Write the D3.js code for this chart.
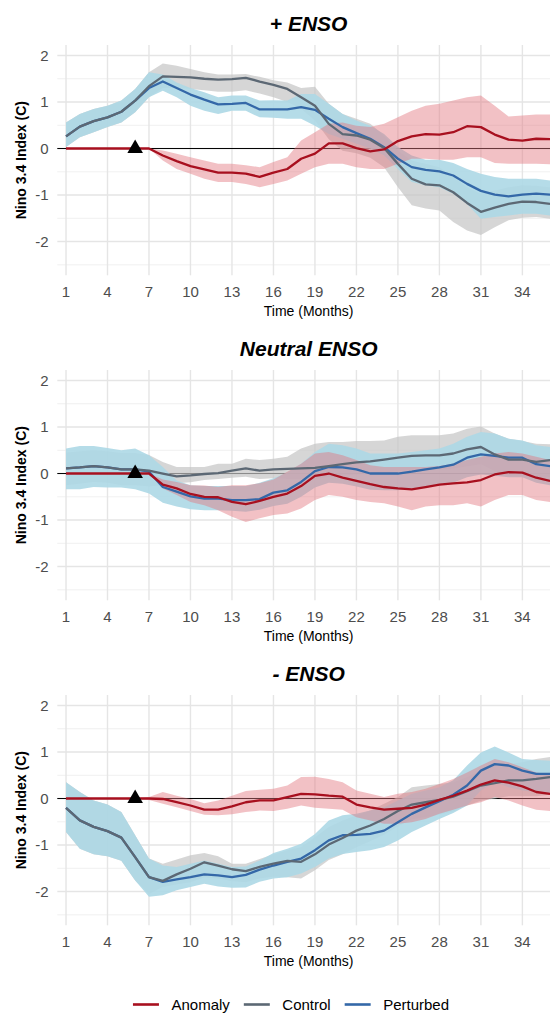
<!DOCTYPE html>
<html>
<head>
<meta charset="utf-8">
<script src="https://cdn.jsdelivr.net/npm/d3@7"></script>
<style>
  body { margin: 0; background: #fff; }
  svg { display: block; font-family: "Liberation Sans", Arial, sans-serif; }
</style>
</head>
<body>
<div id="chart"></div>
<script>
// -------------------------------------------------------------------------
// Data

const months = [1, 2, 3, 4, 5, 6, 7, 8, 9, 10, 11, 12, 13, 14, 15, 16, 17, 18,
  19, 20, 21, 22, 23, 24, 25, 26, 27, 28, 29, 30, 31, 32, 33, 34, 35, 36];
const xTicks = [1, 4, 7, 10, 13, 16, 19, 22, 25, 28, 31, 34];
const yTicks = [-2, -1, 0, 1, 2];
const yMinor = [-2.5, -1.5, -0.5, 0.5, 1.5];
const titles = ['+ ENSO', 'Neutral ENSO', '- ENSO'];
const seriesNames = ['Anomaly', 'Control', 'Perturbed'];
const perturbMonth = 6;

// + ENSO
const posCtrl = [0.26, 0.47, 0.59, 0.67, 0.79, 1.03, 1.34, 1.55, 1.54, 1.53, 1.50, 1.48, 1.49, 1.52, 1.44, 1.37, 1.28, 1.10,
  0.92, 0.53, 0.31, 0.28, 0.19, 0.01, -0.33, -0.65, -0.77, -0.79, -0.94, -1.17, -1.36, -1.27, -1.19, -1.14, -1.15, -1.19];
const posCtrlHi = [0.56, 0.74, 0.85, 0.92, 1.03, 1.28, 1.64, 1.83, 1.78, 1.71, 1.64, 1.59, 1.59, 1.60, 1.54, 1.47, 1.42, 1.30,
  1.33, 0.96, 0.74, 0.64, 0.53, 0.28, -0.04, -0.26, -0.33, -0.40, -0.61, -0.83, -0.97, -0.90, -0.83, -0.79, -0.80, -0.83];
const posCtrlLo = [0.03, 0.24, 0.35, 0.46, 0.56, 0.78, 1.10, 1.30, 1.30, 1.28, 1.25, 1.22, 1.22, 1.25, 1.18, 1.10, 1.00, 0.85,
  0.60, 0.20, -0.05, -0.10, -0.20, -0.40, -0.83, -1.22, -1.29, -1.33, -1.58, -1.76, -1.86, -1.69, -1.54, -1.49, -1.47, -1.51];
const posPert = [0.26, 0.47, 0.59, 0.67, 0.79, 1.03, 1.30, 1.44, 1.30, 1.16, 1.05, 0.95, 0.96, 0.98, 0.84, 0.84, 0.84, 0.89,
  0.83, 0.64, 0.46, 0.33, 0.21, 0.03, -0.22, -0.40, -0.46, -0.49, -0.58, -0.76, -0.91, -0.99, -1.03, -0.99, -0.97, -0.99];
const posPertHi = [0.56, 0.74, 0.85, 0.92, 1.03, 1.28, 1.64, 1.59, 1.42, 1.30, 1.21, 1.10, 1.14, 1.14, 1.03, 1.04, 1.03, 1.17,
  1.17, 0.96, 0.74, 0.60, 0.49, 0.31, 0.03, -0.15, -0.24, -0.24, -0.31, -0.44, -0.54, -0.61, -0.65, -0.65, -0.65, -0.69];
const posPertLo = [0.03, 0.24, 0.35, 0.46, 0.56, 0.78, 1.10, 1.24, 1.10, 0.92, 0.81, 0.74, 0.81, 0.81, 0.67, 0.66, 0.64, 0.64,
  0.49, 0.31, 0.21, 0.10, 0.00, -0.15, -0.44, -0.72, -0.79, -0.83, -0.97, -1.19, -1.51, -1.47, -1.44, -1.40, -1.40, -1.44];
const posAnom = [0, 0, 0, 0, 0, 0, 0, -0.15, -0.27, -0.38, -0.45, -0.52, -0.52, -0.54, -0.61, -0.52, -0.44, -0.22,
  -0.11, 0.11, 0.11, 0.01, -0.06, -0.02, 0.16, 0.26, 0.31, 0.30, 0.35, 0.48, 0.46, 0.30, 0.19, 0.17, 0.21, 0.20];
const posAnomHi = [0, 0, 0, 0, 0, 0, 0, -0.04, -0.11, -0.19, -0.26, -0.33, -0.33, -0.36, -0.40, -0.29, -0.19, 0.17,
  0.35, 0.53, 0.56, 0.49, 0.46, 0.53, 0.67, 0.81, 0.92, 0.96, 1.03, 1.10, 1.14, 0.92, 0.69, 0.71, 0.73, 0.73];
const posAnomLo = [0, 0, 0, 0, 0, 0, 0, -0.26, -0.44, -0.54, -0.65, -0.72, -0.72, -0.76, -0.83, -0.76, -0.69, -0.54,
  -0.40, -0.33, -0.33, -0.40, -0.44, -0.44, -0.33, -0.22, -0.22, -0.24, -0.24, -0.19, -0.19, -0.31, -0.33, -0.33, -0.33, -0.34];

// Neutral ENSO
const neuCtrl = [0.11, 0.13, 0.16, 0.13, 0.09, 0.09, 0.06, 0.00, -0.06, -0.04, -0.01, 0.01, 0.06, 0.11, 0.06, 0.09, 0.10, 0.11,
  0.12, 0.16, 0.20, 0.24, 0.26, 0.30, 0.34, 0.38, 0.39, 0.39, 0.43, 0.52, 0.57, 0.41, 0.30, 0.30, 0.25, 0.29];
const neuCtrlHi = [0.45, 0.48, 0.50, 0.48, 0.44, 0.44, 0.40, 0.25, 0.14, 0.14, 0.14, 0.21, 0.21, 0.32, 0.29, 0.32, 0.36, 0.54,
  0.64, 0.68, 0.68, 0.70, 0.70, 0.71, 0.79, 0.82, 0.82, 0.82, 0.86, 0.96, 1.01, 0.86, 0.75, 0.70, 0.64, 0.63];
const neuCtrlLo = [-0.25, -0.22, -0.18, -0.20, -0.25, -0.25, -0.28, -0.25, -0.21, -0.19, -0.14, -0.12, -0.09, -0.07, -0.12, -0.10, -0.12, -0.12,
  -0.12, -0.08, -0.05, -0.02, 0.00, 0.02, 0.05, 0.08, 0.08, 0.08, 0.10, 0.15, 0.20, 0.05, -0.05, -0.05, -0.10, -0.08];
const neuPert = [0.11, 0.13, 0.16, 0.13, 0.09, 0.09, 0.04, -0.29, -0.39, -0.49, -0.54, -0.54, -0.57, -0.57, -0.55, -0.41, -0.36, -0.18,
  0.05, 0.14, 0.13, 0.09, 0.00, 0.00, 0.00, 0.04, 0.09, 0.13, 0.19, 0.34, 0.41, 0.38, 0.34, 0.34, 0.20, 0.16];
const neuPertHi = [0.54, 0.59, 0.59, 0.55, 0.50, 0.54, 0.39, 0.14, -0.15, -0.25, -0.27, -0.27, -0.27, -0.27, -0.20, -0.10, 0.02, 0.21,
  0.46, 0.64, 0.61, 0.54, 0.43, 0.43, 0.43, 0.46, 0.50, 0.54, 0.64, 0.79, 0.89, 0.86, 0.75, 0.71, 0.61, 0.57];
const neuPertLo = [-0.34, -0.34, -0.29, -0.30, -0.30, -0.34, -0.43, -0.63, -0.71, -0.77, -0.79, -0.79, -0.80, -0.82, -0.78, -0.70, -0.65, -0.50,
  -0.30, -0.20, -0.22, -0.28, -0.35, -0.36, -0.36, -0.32, -0.28, -0.24, -0.20, -0.08, -0.02, -0.05, -0.08, -0.08, -0.20, -0.25];
const neuAnom = [0, 0, 0, 0, 0, 0, 0, -0.24, -0.32, -0.44, -0.50, -0.51, -0.61, -0.66, -0.59, -0.50, -0.43, -0.27,
  -0.05, 0.00, -0.09, -0.16, -0.23, -0.29, -0.32, -0.34, -0.29, -0.24, -0.21, -0.19, -0.14, -0.02, 0.03, 0.02, -0.09, -0.16];
const neuAnomHi = [0, 0, 0, 0, 0, 0, 0, -0.13, -0.18, -0.25, -0.26, -0.29, -0.25, -0.25, -0.21, -0.13, 0.04, 0.21,
  0.43, 0.46, 0.39, 0.29, 0.18, 0.14, 0.14, 0.14, 0.14, 0.16, 0.21, 0.29, 0.36, 0.43, 0.46, 0.43, 0.36, 0.29];
const neuAnomLo = [0, 0, 0, 0, 0, 0, 0, -0.32, -0.46, -0.61, -0.68, -0.79, -0.93, -1.04, -0.96, -0.89, -0.86, -0.75,
  -0.57, -0.46, -0.50, -0.57, -0.61, -0.64, -0.71, -0.79, -0.71, -0.68, -0.68, -0.64, -0.71, -0.57, -0.46, -0.46, -0.57, -0.61];

// - ENSO
const negCtrl = [-0.20, -0.47, -0.61, -0.70, -0.84, -1.26, -1.69, -1.77, -1.63, -1.51, -1.37, -1.44, -1.52, -1.56, -1.47, -1.40, -1.34, -1.36,
  -1.20, -0.99, -0.85, -0.69, -0.58, -0.44, -0.27, -0.13, -0.08, -0.03, 0.04, 0.16, 0.28, 0.33, 0.39, 0.39, 0.42, 0.46];
const negCtrlHi = [0.35, 0.14, -0.04, -0.13, -0.29, -0.79, -1.29, -1.40, -1.31, -1.22, -1.17, -1.24, -1.40, -1.40, -1.30, -1.20, -1.11, -1.04,
  -0.83, -0.61, -0.47, -0.36, -0.26, -0.11, 0.03, 0.24, 0.28, 0.31, 0.35, 0.46, 0.60, 0.71, 0.74, 0.78, 0.85, 0.89];
const negCtrlLo = [-0.72, -1.08, -1.20, -1.24, -1.34, -1.76, -2.05, -1.90, -1.85, -1.80, -1.70, -1.72, -1.78, -1.80, -1.72, -1.68, -1.69, -1.72,
  -1.54, -1.32, -1.20, -1.05, -0.92, -0.78, -0.60, -0.45, -0.40, -0.35, -0.28, -0.15, -0.05, 0.00, 0.05, 0.05, 0.05, 0.08];
const negPert = [-0.20, -0.47, -0.61, -0.70, -0.84, -1.26, -1.69, -1.79, -1.74, -1.69, -1.63, -1.65, -1.69, -1.64, -1.53, -1.44, -1.36, -1.29,
  -1.11, -0.90, -0.79, -0.78, -0.76, -0.69, -0.51, -0.33, -0.19, -0.06, 0.08, 0.28, 0.60, 0.74, 0.71, 0.60, 0.53, 0.53];
const negPertHi = [0.35, 0.14, -0.04, -0.13, -0.29, -0.79, -1.29, -1.44, -1.47, -1.40, -1.33, -1.40, -1.47, -1.46, -1.33, -1.17, -1.08, -0.97,
  -0.76, -0.47, -0.36, -0.33, -0.26, -0.19, -0.04, 0.10, 0.17, 0.24, 0.39, 0.71, 0.99, 1.12, 0.99, 0.85, 0.83, 0.81];
const negPertLo = [-0.72, -1.08, -1.20, -1.24, -1.34, -1.76, -2.11, -2.08, -1.97, -1.90, -1.83, -1.89, -1.92, -1.91, -1.79, -1.72, -1.69, -1.61,
  -1.47, -1.29, -1.19, -1.15, -1.11, -1.04, -0.90, -0.72, -0.58, -0.44, -0.31, -0.15, 0.17, 0.35, 0.24, 0.17, 0.14, 0.11];
const negAnom = [0, 0, 0, 0, 0, 0, 0, -0.01, -0.08, -0.15, -0.24, -0.24, -0.17, -0.08, -0.04, -0.04, 0.03, 0.10,
  0.09, 0.06, 0.04, -0.13, -0.19, -0.24, -0.22, -0.20, -0.13, -0.03, 0.06, 0.17, 0.30, 0.39, 0.34, 0.26, 0.14, 0.10];
const negAnomHi = [0, 0, 0, 0, 0, 0, 0.03, 0.14, 0.06, -0.01, -0.10, -0.04, 0.06, 0.16, 0.19, 0.21, 0.28, 0.46,
  0.47, 0.42, 0.35, 0.17, 0.10, 0.03, 0.10, 0.14, 0.21, 0.31, 0.42, 0.56, 0.71, 0.85, 0.78, 0.67, 0.56, 0.51];
const negAnomLo = [0, 0, 0, 0, 0, 0, -0.03, -0.11, -0.19, -0.27, -0.35, -0.36, -0.34, -0.29, -0.26, -0.27, -0.22, -0.15,
  -0.20, -0.22, -0.24, -0.40, -0.47, -0.54, -0.54, -0.51, -0.44, -0.33, -0.24, -0.15, -0.08, 0.03, -0.04, -0.15, -0.24, -0.27];

// -------------------------------------------------------------------------
// Setup

const width = 550;
const height = 1013;
const panelStep = 325;
const plotLeft = 57.3;
const plotRight = 560;   // the plot panel runs a bit past the image edge
const plotTop = 45;
const plotBottom = 275.3;
const centerX = (plotLeft + plotRight) / 2;

const lineColor = { Anomaly: '#a8101f', Control: '#5c6874', Perturbed: '#3468a8' };
const fillColor = { Anomaly: '#e3767f', Control: '#c4c4c4', Perturbed: '#add8e6' };
const fillOpacity = { Anomaly: 0.45, Control: 0.7, Perturbed: 0.9 };

const panels = [
  { title: titles[0], Control: [posCtrl, posCtrlLo, posCtrlHi], Perturbed: [posPert, posPertLo, posPertHi], Anomaly: [posAnom, posAnomLo, posAnomHi] },
  { title: titles[1], Control: [neuCtrl, neuCtrlLo, neuCtrlHi], Perturbed: [neuPert, neuPertLo, neuPertHi], Anomaly: [neuAnom, neuAnomLo, neuAnomHi] },
  { title: titles[2], Control: [negCtrl, negCtrlLo, negCtrlHi], Perturbed: [negPert, negPertLo, negPertHi], Anomaly: [negAnom, negAnomLo, negAnomHi] }
];

const svg = d3.select('#chart')
  .append('svg')
  .attr('width', width)
  .attr('height', height);

const x = d3.scaleLinear()
  .domain([0.37, 36.72])
  .range([plotLeft, plotRight]);

const y = d3.scaleLinear()
  .domain([-2.725, 2.225])
  .range([plotBottom, plotTop]);

svg.append('defs').append('clipPath')
  .attr('id', 'plot-clip')
  .append('rect')
  .attr('x', plotLeft)
  .attr('y', plotTop)
  .attr('width', plotRight - plotLeft)
  .attr('height', plotBottom - plotTop);

function rows(series) {
  return months.map((m, i) => ({ m: m, v: series[0][i], lo: series[1][i], hi: series[2][i] }));
}

const area = d3.area()
  .x(d => x(d.m))
  .y0(d => y(d.lo))
  .y1(d => y(d.hi));

const line = d3.line()
  .x(d => x(d.m))
  .y(d => y(d.v));

// -------------------------------------------------------------------------
// Panels

panels.forEach((panel, p) => {
  let g = svg.append('g')
    .attr('transform', `translate(0,${p * panelStep})`);

  // grid
  let grid = g.append('g');
  grid.selectAll('.minor')
    .data(yMinor)
    .enter()
    .append('line')
    .attr('x1', plotLeft).attr('x2', plotRight)
    .attr('y1', d => y(d)).attr('y2', d => y(d))
    .attr('stroke', '#ececec')
    .attr('stroke-width', 0.8);
  grid.selectAll('.major-y')
    .data(yTicks)
    .enter()
    .append('line')
    .attr('x1', plotLeft).attr('x2', plotRight)
    .attr('y1', d => y(d)).attr('y2', d => y(d))
    .attr('stroke', '#e5e5e5')
    .attr('stroke-width', 1.4);
  grid.selectAll('.major-x')
    .data(xTicks)
    .enter()
    .append('line')
    .attr('x1', d => x(d)).attr('x2', d => x(d))
    .attr('y1', plotTop).attr('y2', plotBottom)
    .attr('stroke', '#e5e5e5')
    .attr('stroke-width', 1.4);

  // zero line
  g.append('line')
    .attr('x1', plotLeft).attr('x2', plotRight)
    .attr('y1', y(0)).attr('y2', y(0))
    .attr('stroke', '#000')
    .attr('stroke-width', 1);

  let plot = g.append('g').attr('clip-path', 'url(#plot-clip)');

  ['Control', 'Perturbed', 'Anomaly'].forEach(name => {
    plot.append('path')
      .datum(rows(panel[name]))
      .attr('d', area)
      .attr('fill', fillColor[name])
      .attr('fill-opacity', fillOpacity[name]);
  });

  ['Perturbed', 'Control', 'Anomaly'].forEach(name => {
    plot.append('path')
      .datum(rows(panel[name]))
      .attr('d', line)
      .attr('fill', 'none')
      .attr('stroke', lineColor[name])
      .attr('stroke-width', 2.3)
      .attr('stroke-linejoin', 'round');
  });

  // perturbation marker
  g.append('path')
    .attr('d', d3.symbol(d3.symbolTriangle, 105)())
    .attr('transform', `translate(${x(perturbMonth)},${y(0)})`)
    .attr('fill', '#000');

  // axes text
  g.selectAll('.xlab')
    .data(xTicks)
    .enter()
    .append('text')
    .attr('x', d => x(d))
    .attr('y', 296.5)
    .attr('text-anchor', 'middle')
    .attr('font-size', 15)
    .attr('fill', '#4d4d4d')
    .text(d => d);

  g.selectAll('.ylab')
    .data(yTicks)
    .enter()
    .append('text')
    .attr('x', 48.5)
    .attr('y', d => y(d))
    .attr('dy', '0.36em')
    .attr('text-anchor', 'end')
    .attr('font-size', 15)
    .attr('fill', '#4d4d4d')
    .text(d => d);

  g.append('text')
    .attr('x', centerX)
    .attr('y', 315.5)
    .attr('text-anchor', 'middle')
    .attr('font-size', 14)
    .attr('fill', '#000')
    .text('Time (Months)');

  g.append('text')
    .attr('transform', `translate(25.5,${(plotTop + plotBottom) / 2}) rotate(-90)`)
    .attr('text-anchor', 'middle')
    .attr('font-size', 14)
    .attr('font-weight', 'bold')
    .attr('fill', '#000')
    .text('Nino 3.4 Index (C)');

  g.append('text')
    .attr('x', centerX)
    .attr('y', 31)
    .attr('text-anchor', 'middle')
    .attr('font-size', 21)
    .attr('font-weight', 'bold')
    .attr('font-style', 'italic')
    .attr('fill', '#000')
    .text(panel.title);
});

// -------------------------------------------------------------------------
// Legend

let legend = svg.append('g').attr('transform', 'translate(0,1004.5)');
let items = legend.selectAll('g')
  .data(seriesNames)
  .enter()
  .append('g');
items.append('line')
  .attr('x1', 0).attr('x2', 26)
  .attr('stroke', d => lineColor[d])
  .attr('stroke-width', 2.6);
items.append('text')
  .attr('x', 38.5)
  .attr('dy', '0.36em')
  .attr('font-size', 15)
  .attr('fill', '#000')
  .text(d => d);

let offsets = [];
let cursor = 0;
items.each(function() {
  offsets.push(cursor);
  cursor += 38.5 + this.querySelector('text').getComputedTextLength() + 14;
});
let legendWidth = cursor - 14;
let legendLeft = 291 - legendWidth / 2;
items.attr('transform', (d, i) => `translate(${legendLeft + offsets[i]},0)`);
</script>
</body>
</html>
